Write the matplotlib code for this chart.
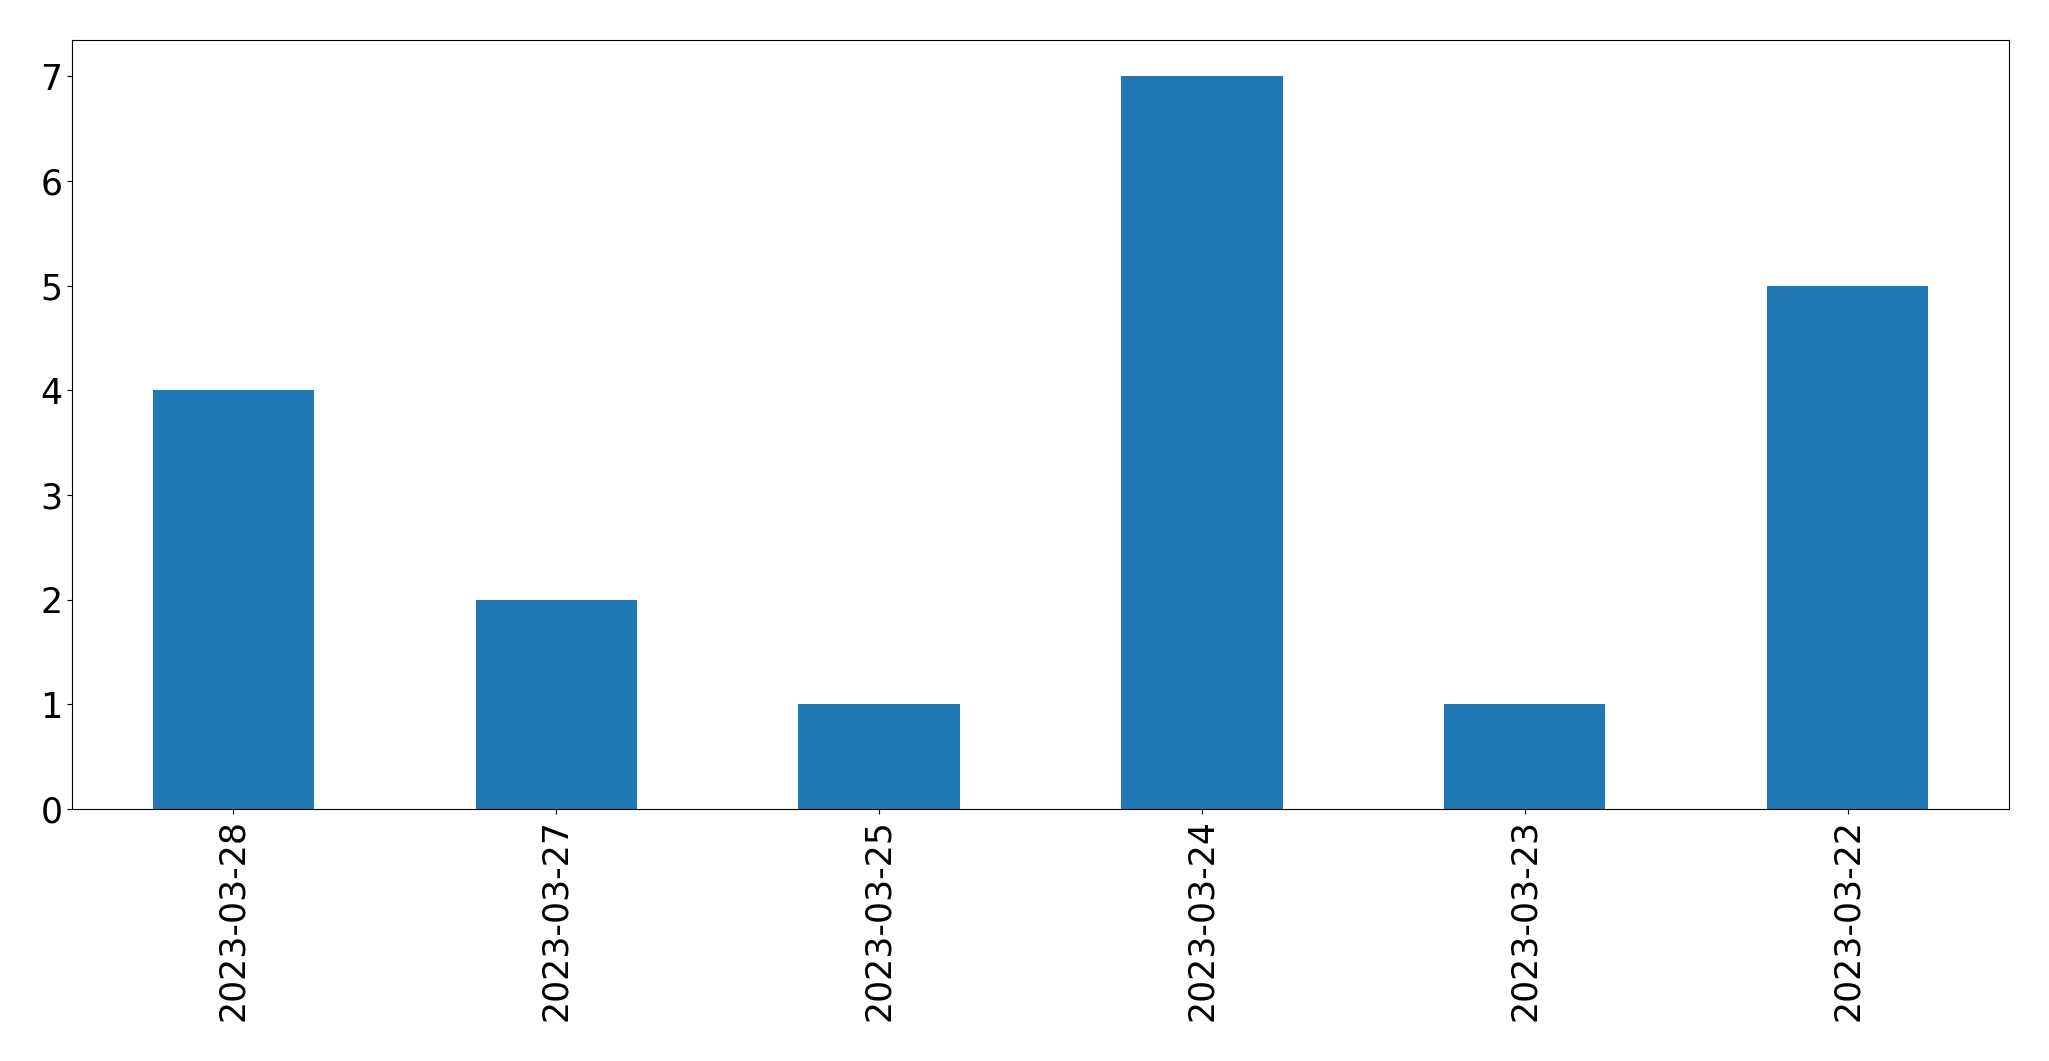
import matplotlib
matplotlib.use("Agg")
import matplotlib.pyplot as plt
import pandas as pd

dates = ['2023-03-28', '2023-03-27', '2023-03-25', '2023-03-24', '2023-03-23', '2023-03-22']
counts = [4, 2, 1, 7, 1, 5]

s = pd.Series(counts, index=dates)

fig = plt.figure(figsize=(20.49, 10.61), dpi=100)
ax = fig.add_axes([72 / 2049, 1 - 809 / 1061, (2009 - 72) / 2049, (809 - 39.5) / 1061])
s.plot(kind='bar', ax=ax, color='#1f77b4', fontsize=25)
ax.set_xlabel('')

fig.savefig('out.png', dpi=100)
